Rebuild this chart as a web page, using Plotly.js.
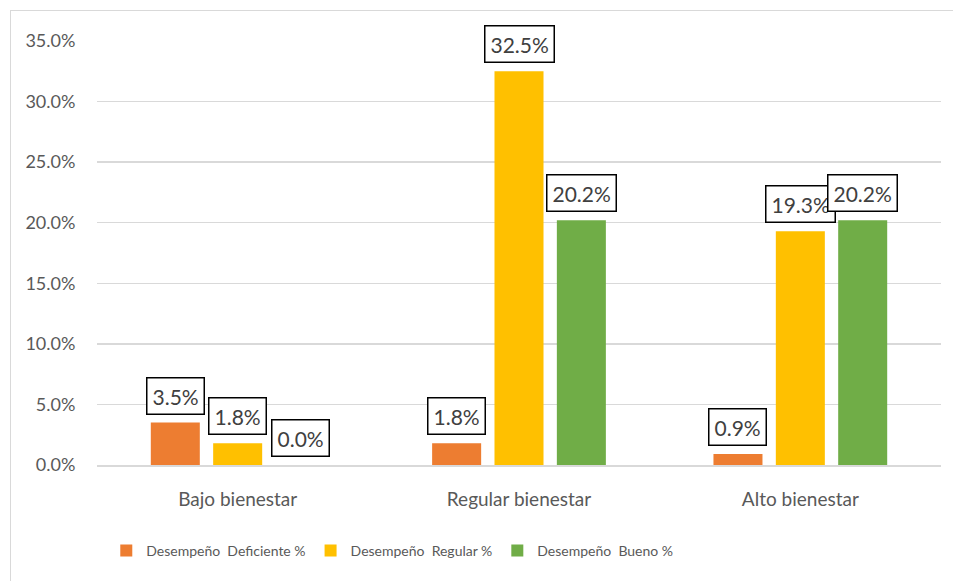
<!DOCTYPE html>
<html>
<head>
<meta charset="utf-8">
<script src="https://cdn.plot.ly/plotly-3.0.1.min.js"></script>
<style>
  html, body { margin: 0; padding: 0; background: #ffffff; }
  #wrap { position: relative; width: 953px; height: 581px; overflow: hidden; }
  #frame { position: absolute; left: 10px; top: 10px; width: 980px; height: 620px;
           border: 1.5px solid #d9d9d9; box-sizing: border-box; }
  #chart { position: absolute; left: 0; top: 0; width: 953px; height: 581px; }
</style>
</head>
<body>
<div id="wrap">
  <div id="frame"></div>
  <div id="chart"></div>
</div>
<script>
// Niveles de bienestar (categorías del eje X)
const categories = ['Bajo bienestar', 'Regular bienestar', 'Alto bienestar'];

// Porcentajes por nivel de desempeño
const seriesNames = ['Desempeño\u00a0 Deficiente %', 'Desempeño\u00a0 Regular %', 'Desempeño\u00a0 Bueno %'];
const deficiente = [3.5, 1.8, 0.9];
const regular    = [1.8, 32.5, 19.3];
const bueno      = [0.0, 20.2, 20.2];

const seriesValues = [deficiente, regular, bueno];
const seriesColors = ['#ED7D31', '#FFC000', '#70AD47'];

const bargap = 0.335;
const bargroupgap = 0.214;

const traces = seriesValues.map((vals, k) => ({
  type: 'bar',
  name: seriesNames[k],
  x: categories,
  y: vals,
  marker: { color: seriesColors[k] },
  hoverinfo: 'x+y'
}));

// Etiquetas de valor en recuadro sobre cada barra
const nSeries = seriesValues.length;
const slot = (1 - bargap) / nSeries;
const annotations = [];
seriesValues.forEach((vals, k) => {
  vals.forEach((v, i) => {
    annotations.push({
      x: i + (k - (nSeries - 1) / 2) * slot,
      y: v,
      xref: 'x', yref: 'y',
      text: v.toFixed(1) + '%',
      showarrow: false,
      yanchor: 'bottom',
      yshift: 8,
      bgcolor: '#ffffff',
      bordercolor: '#000000',
      borderwidth: 1.5,
      borderpad: 5,
      font: { family: 'Lato, sans-serif', size: 21, color: '#404040' }
    });
  });
});

const layout = {
  width: 953,
  height: 581,
  margin: { l: 97, r: 12, t: 41, b: 116 },
  paper_bgcolor: 'rgba(0,0,0,0)',
  plot_bgcolor: 'rgba(0,0,0,0)',
  barmode: 'group',
  bargap: bargap,
  bargroupgap: bargroupgap,
  showlegend: true,
  legend: {
    orientation: 'h',
    x: 0.011, xanchor: 'left',
    y: -0.165, yanchor: 'top',
    font: { family: 'Lato, sans-serif', size: 14, color: '#595959' },
    traceorder: 'normal'
  },
  xaxis: {
    type: 'category',
    showgrid: false,
    showline: true,
    linecolor: '#d9d9d9',
    linewidth: 1.5,
    ticks: 'outside',
    ticklen: 17,
    tickcolor: 'rgba(0,0,0,0)',
    tickfont: { family: 'Lato, sans-serif', size: 19, color: '#595959' },
    fixedrange: true
  },
  yaxis: {
    range: [0, 35],
    dtick: 5,
    tick0: 0,
    tickformat: '.1f',
    ticksuffix: '%',
    showgrid: true,
    gridcolor: '#d9d9d9',
    gridwidth: 1.5,
    zeroline: false,
    showline: false,
    ticks: 'outside',
    ticklen: 17,
    tickcolor: 'rgba(0,0,0,0)',
    tickfont: { family: 'Lato, sans-serif', size: 18, color: '#595959' },
    fixedrange: true
  },
  annotations: annotations
};

Plotly.newPlot('chart', traces, layout, { displayModeBar: false, staticPlot: true });
</script>
</body>
</html>
